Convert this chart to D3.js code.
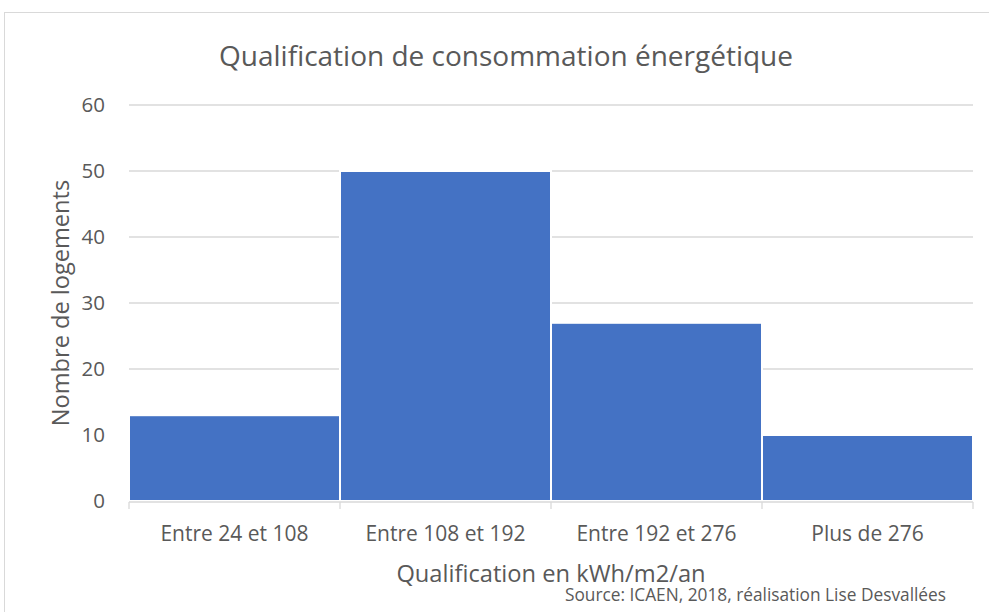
<!DOCTYPE html>
<html>
<head>
<meta charset="utf-8">
<script src="https://cdn.jsdelivr.net/npm/d3@7"></script>
<style>
  body { margin: 0; background: #fff; }
  svg { font-family: "Open Sans", sans-serif; }
</style>
</head>
<body>
<svg width="989" height="612"></svg>
<script>
// data
const categories = ['Entre 24 et 108', 'Entre 108 et 192', 'Entre 192 et 276', 'Plus de 276']
const values = [13, 50, 27, 10]
const yTicks = [0, 10, 20, 30, 40, 50, 60]

const svg = d3.select('svg')
const plotLeft = 129, plotRight = 973, plotTop = 105, plotBottom = 501

// chart frame
svg.append('rect')
    .attr('x', 4.5).attr('y', 12.5)
    .attr('width', 1000).attr('height', 700)
    .style('fill', 'white')
    .style('stroke', '#d9d9d9')
    .style('stroke-width', 1)

const x = d3.scaleBand().domain(categories).range([plotLeft, plotRight]).padding(0)
const y = d3.scaleLinear().domain([0, 60]).range([plotBottom, plotTop])

// gridlines
svg.append('g')
    .selectAll('line')
    .data(yTicks.filter(d => d > 0))
    .join('line')
    .attr('x1', plotLeft).attr('x2', plotRight)
    .attr('y1', d => y(d)).attr('y2', d => y(d))
    .style('stroke', '#d9d9d9')
    .style('stroke-width', 1.3)

// bars
svg.append('g')
    .selectAll('rect')
    .data(values)
    .join('rect')
    .attr('x', (d, i) => x(categories[i]))
    .attr('y', d => y(d))
    .attr('width', x.bandwidth())
    .attr('height', d => y(0) - y(d))
    .style('fill', '#4472c4')
    .style('stroke', 'white')
    .style('stroke-width', 2)

// x axis line + ticks at boundaries
svg.append('line')
    .attr('x1', plotLeft).attr('x2', plotRight)
    .attr('y1', plotBottom + 1).attr('y2', plotBottom + 1)
    .style('stroke', '#d9d9d9').style('stroke-width', 1.3)

const bounds = categories.map(c => x(c)).concat([plotRight])
svg.append('g')
    .selectAll('line')
    .data(bounds)
    .join('line')
    .attr('x1', d => d).attr('x2', d => d)
    .attr('y1', plotBottom + 1).attr('y2', plotBottom + 8)
    .style('stroke', '#d9d9d9').style('stroke-width', 1.3)

// x labels
svg.append('g')
    .selectAll('text')
    .data(categories)
    .join('text')
    .attr('x', d => x(d) + x.bandwidth() / 2)
    .attr('y', 541)
    .attr('text-anchor', 'middle')
    .style('font-size', '21px')
    .style('fill', '#595959')
    .text(d => d)

// y labels
svg.append('g')
    .selectAll('text')
    .data(yTicks)
    .join('text')
    .attr('x', 105)
    .attr('y', d => y(d) + 7)
    .attr('text-anchor', 'end')
    .style('font-size', '20.5px')
    .style('fill', '#595959')
    .text(d => d)

// title
svg.append('text')
    .attr('x', 506).attr('y', 66)
    .attr('text-anchor', 'middle')
    .style('font-size', '28px')
    .style('fill', '#595959')
    .text('Qualification de consommation énergétique')

// axis titles
svg.append('text')
    .attr('x', 551).attr('y', 582)
    .attr('text-anchor', 'middle')
    .style('font-size', '23.7px')
    .style('fill', '#595959')
    .text('Qualification en kWh/m2/an')

svg.append('text')
    .attr('transform', 'translate(69,303) rotate(-90)')
    .attr('text-anchor', 'middle')
    .style('font-size', '23.6px')
    .style('fill', '#595959')
    .text('Nombre de logements')

// source
svg.append('text')
    .attr('x', 946).attr('y', 601)
    .attr('text-anchor', 'end')
    .style('font-size', '17.3px')
    .style('fill', '#595959')
    .text('Source: ICAEN, 2018, réalisation Lise Desvallées')
</script>
</body>
</html>
